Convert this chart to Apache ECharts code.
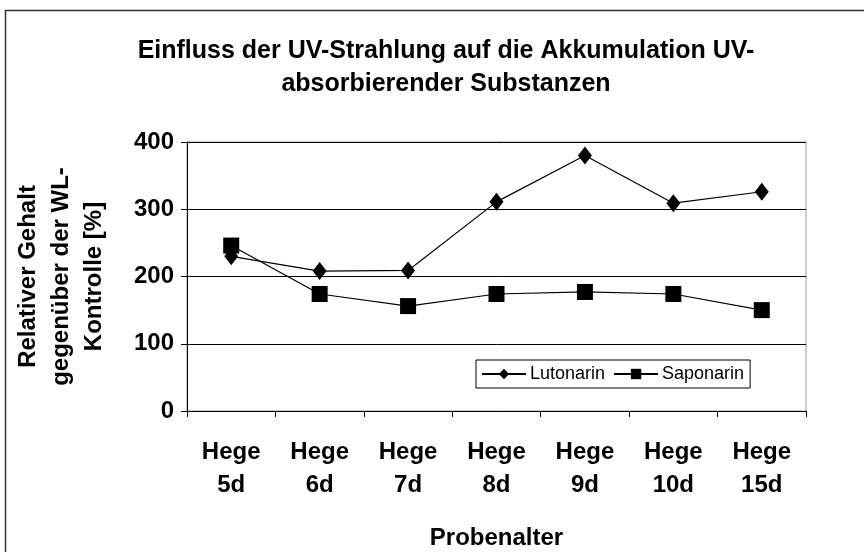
<!DOCTYPE html>
<html>
<head>
<meta charset="utf-8">
<script src="https://cdn.jsdelivr.net/npm/echarts@6/dist/echarts.min.js"></script>
<style>
  html, body { margin: 0; padding: 0; background: #fff; }
  #chart { width: 864px; height: 552px; }
</style>
</head>
<body>
<div id="chart"></div>
<script>
// categories and values
const categories = ['Hege\n5d', 'Hege\n6d', 'Hege\n7d', 'Hege\n8d', 'Hege\n9d', 'Hege\n10d', 'Hege\n15d']
const lutonarin = [230, 208, 209, 311, 380, 309, 326]
const saponarin = [246, 174, 156, 174, 177, 174, 150]
const yTicks = [0, 100, 200, 300, 400]

const font = '"Liberation Sans", Arial, sans-serif'

const chart = echarts.init(document.getElementById('chart'))

chart.setOption({
  animation: false,
  backgroundColor: '#fff',
  title: {
    text: 'Einfluss der UV-Strahlung auf die Akkumulation UV-\nabsorbierender Substanzen',
    left: 441,
    top: 30,
    textAlign: 'center',
    textStyle: {
      fontFamily: font,
      fontSize: 25,
      fontWeight: 'bold',
      color: '#000',
      lineHeight: 33
    }
  },
  graphic: [{
    type: 'rect',
    shape: { x: 5.5, y: 10.5, width: 900, height: 600 },
    style: { fill: 'none', stroke: '#333', lineWidth: 1.5 },
    silent: true
  }],
  grid: {
    left: 187,
    right: 58,
    top: 142,
    bottom: 141,
    show: true,
    borderColor: '#999',
    borderWidth: 1
  },
  legend: {
    data: ['Lutonarin', 'Saponarin'],
    left: 476,
    top: 360,
    padding: [5, 6, 5, 5],
    itemGap: 8,
    itemWidth: 44,
    itemHeight: 13,
    borderColor: '#000',
    borderWidth: 1,
    backgroundColor: '#fff',
    textStyle: { fontFamily: font, fontSize: 18, color: '#000', padding: [0, 0, 0, -1] }
  },
  xAxis: {
    type: 'category',
    data: categories,
    boundaryGap: true,
    name: 'Probenalter',
    nameLocation: 'middle',
    nameGap: 115,
    nameTextStyle: { fontFamily: font, fontSize: 24, fontWeight: 'bold', color: '#000' },
    axisLine: { lineStyle: { color: '#000', width: 1 } },
    axisTick: { show: true, length: 6, lineStyle: { color: '#000' } },
    axisLabel: {
      interval: 0,
      margin: 25,
      fontFamily: font,
      fontSize: 24,
      fontWeight: 'bold',
      color: '#000',
      lineHeight: 33
    }
  },
  yAxis: {
    type: 'value',
    min: yTicks[0],
    max: yTicks[yTicks.length - 1],
    interval: 100,
    name: 'Relativer Gehalt\ngegenüber der WL-\nKontrolle [%]',
    nameLocation: 'middle',
    nameRotate: 90,
    nameGap: 76,
    nameTextStyle: { fontFamily: font, fontSize: 24, fontWeight: 'bold', color: '#000', lineHeight: 33 },
    axisLine: { show: true, lineStyle: { color: '#000', width: 1 } },
    axisTick: { show: true, length: 6, lineStyle: { color: '#000' } },
    axisLabel: {
      margin: 13,
      fontFamily: font,
      fontSize: 24,
      fontWeight: 'bold',
      color: '#000'
    },
    splitLine: { show: true, lineStyle: { color: '#000', width: 1 } }
  },
  series: [{
    name: 'Lutonarin',
    type: 'line',
    data: lutonarin,
    symbol: 'diamond',
    symbolSize: [14, 18],
    itemStyle: { color: '#000' },
    lineStyle: { color: '#000', width: 1.2 },
    z: 3
  }, {
    name: 'Saponarin',
    type: 'line',
    data: saponarin,
    symbol: 'rect',
    symbolSize: 16,
    itemStyle: { color: '#000' },
    lineStyle: { color: '#000', width: 1.2 },
    z: 2
  }]
})
</script>
</body>
</html>
